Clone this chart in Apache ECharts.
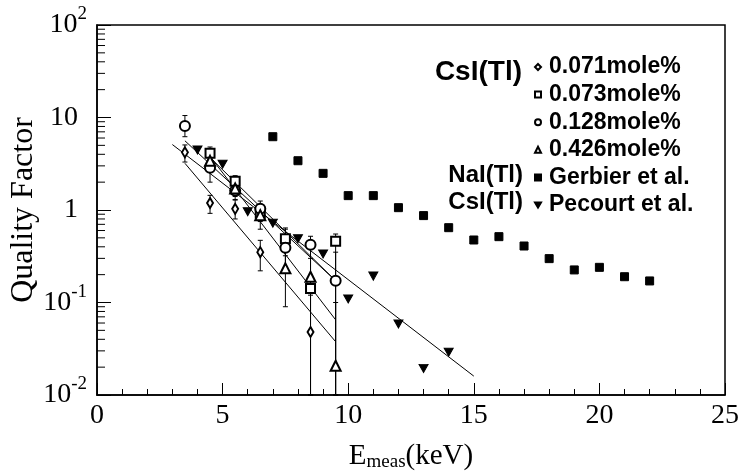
<!DOCTYPE html>
<html>
<head>
<meta charset="utf-8">
<script src="https://cdn.jsdelivr.net/npm/echarts@6/dist/echarts.min.js"></script>
<style>
  html, body { margin: 0; padding: 0; background: #fff; }
  #chart { width: 741px; height: 476px; }
</style>
</head>
<body>
<div id="chart"></div>
<script>
// ---- Quality factor vs. measured energy ----

// CsI(Tl) 0.071 mole%
const x071  = [3.5, 4.5, 5.5, 6.5, 8.5];
const q071  = [4.2, 1.19, 1.03, 0.35, 0.048];
const lo071 = [3.3, 0.92, 0.80, 0.22, 0.01];
const hi071 = [5.05, 1.44, 1.28, 0.47, 0.12];

// CsI(Tl) 0.073 mole%
const x073  = [4.5, 5.5, 6.5, 7.5, 8.5, 9.5];
const q073  = [4.1, 2.04, 0.92, 0.49, 0.142, 0.46];
const lo073 = [3.5, 1.75, 0.75, 0.32, 0.01, 0.01];
const hi073 = [4.8, 2.35, 1.12, 0.64, 0.30, 0.55];

// CsI(Tl) 0.128 mole%
const x128  = [3.5, 4.5, 5.5, 6.5, 7.5, 8.5, 9.5];
const q128  = [8.1, 2.86, 1.62, 1.03, 0.39, 0.42, 0.172];
const lo128 = [6.2, 2.0, 1.3, 0.8, 0.22, 0.01, 0.01];
const hi128 = [10.5, 3.5, 2.0, 1.25, 0.62, 0.52, 0.35];

// CsI(Tl) 0.426 mole%
const x426  = [4.5, 5.5, 6.5, 7.5, 8.5, 9.5];
const q426  = [3.4, 1.71, 0.88, 0.234, 0.19, 0.0207];
const lo426 = [2.8, 1.4, 0.62, 0.09, 0.01, 0.01];
const hi426 = [4.2, 2.1, 1.1, 0.45, 0.42, 0.10];

// NaI(Tl), Gerbier et al.
const xGerbier = [7, 8, 9, 10, 11, 12, 13, 14, 15, 16, 17, 18, 19, 20, 21, 22];
const qGerbier = [6.2, 3.41, 2.49, 1.43, 1.43, 1.06, 0.87, 0.644, 0.474, 0.515, 0.408, 0.298, 0.225, 0.24, 0.19, 0.171];

// CsI(Tl), Pecourt et al.
const xPecourt = [4, 5, 6, 7, 8, 9, 10, 11, 12, 13, 14];
const qPecourt = [4.45, 3.12, 0.96, 0.72, 0.49, 0.334, 0.109, 0.193, 0.0586, 0.0194, 0.029];

// exponential fits (end points)
const fitPecourtX = [3, 15],    fitPecourtY = [5.1, 0.016];
const fit071X = [3.5, 9.5],     fit071Y = [3.2, 0.0377];
const fit073X = [4.5, 9.5],     fit073Y = [3.7, 0.172];
const fit128X = [3.5, 9.5],     fit128Y = [5.6, 0.172];
const fit426X = [4.5, 9.5],     fit426Y = [3.8, 0.065];

// axis ticks
const xTickLabels = [0, 5, 10, 15, 20, 25];
const decadeStarts = [0.01, 0.1, 1, 10];
const minorMantissas = [2, 3, 4, 5, 6, 7, 8, 9];

const names = ['0.071mole%', '0.073mole%', '0.128mole%', '0.426mole%', 'Gerbier et al.', 'Pecourt et al.'];

const SERIF = '"Liberation Serif", "Times New Roman", serif';
const SANS = '"Liberation Sans", Arial, Helvetica, sans-serif';
const downTriangle = 'path://M0,0L10,0L5,8.66Z';

const zip = (xs, ys) => xs.map((x, i) => [x, ys[i]]);

function errorBars(xs, lo, hi) {
  return {
    type: 'custom',
    silent: true,
    z: 2,
    data: xs.map((x, i) => [x, lo[i], hi[i]]),
    encode: { x: 0, y: [1, 2] },
    renderItem(params, api) {
      const x = api.value(0);
      const a = api.coord([x, api.value(1)]);
      const b = api.coord([x, api.value(2)]);
      const w = 2.5;
      const st = { stroke: '#000', lineWidth: 1 };
      return {
        type: 'group',
        children: [
          { type: 'line', shape: { x1: a[0], y1: a[1], x2: b[0], y2: b[1] }, style: st },
          { type: 'line', shape: { x1: a[0] - w, y1: a[1], x2: a[0] + w, y2: a[1] }, style: st },
          { type: 'line', shape: { x1: b[0] - w, y1: b[1], x2: b[0] + w, y2: b[1] }, style: st }
        ]
      };
    }
  };
}

function fitLine(xs, ys) {
  return {
    type: 'line',
    data: zip(xs, ys),
    symbol: 'none',
    silent: true,
    z: 3,
    lineStyle: { color: '#000', width: 1 }
  };
}

function points(name, xs, ys, symbol, size) {
  return {
    type: 'scatter',
    name: name,
    data: zip(xs, ys),
    symbol: symbol,
    symbolSize: size,
    z: 5,
    itemStyle: { color: '#000', borderColor: '#000', borderWidth: 1, opacity: 1 }
  };
}

const minorTickValues = [];
decadeStarts.forEach(d => minorMantissas.forEach(m => minorTickValues.push(m * d)));

const option = {
  animation: false,
  backgroundColor: '#fff',
  grid: {
    left: 97, right: 16, top: 25, bottom: 81,
    containLabel: false, outerBoundsMode: 'none',
    show: true, borderColor: '#000', borderWidth: 1.5, backgroundColor: 'transparent'
  },
  xAxis: {
    type: 'value',
    min: 0, max: 25, interval: 5,
    splitLine: { show: false },
    axisLine: { lineStyle: { color: '#000', width: 1.5 } },
    axisTick: { inside: true, length: 12, lineStyle: { color: '#000', width: 1 } },
    minorTick: { show: true, splitNumber: 5, length: 6, lineStyle: { color: '#000', width: 1 } },
    axisLabel: { color: '#000', fontFamily: SERIF, fontSize: 28, margin: 7,
      formatter: v => (xTickLabels.indexOf(v) >= 0 ? String(v) : '') },
    name: '{e|E}{m|meas}{k|(keV)}',
    nameLocation: 'middle',
    nameGap: 45,
    nameMoveOverlap: false,
    nameTextStyle: {
      rich: {
        e: { fontFamily: SERIF, fontSize: 29, color: '#000', lineHeight: 32 },
        m: { fontFamily: SERIF, fontSize: 19, color: '#000', verticalAlign: 'bottom', lineHeight: 15 },
        k: { fontFamily: SERIF, fontSize: 29, color: '#000', lineHeight: 32 }
      }
    }
  },
  yAxis: {
    type: 'log',
    min: 0.01, max: 100, logBase: 10,
    splitLine: { show: false },
    axisLine: { lineStyle: { color: '#000', width: 1.5 } },
    axisTick: { inside: true, length: 14, lineStyle: { color: '#000', width: 1 } },
    axisLabel: {
      margin: 10,
      formatter: v => {
        const e = Math.round(Math.log10(v));
        if (e === 0) return '{b|1}{p|}';
        if (e === 1) return '{b|10}{p|}';
        return '{b|10}{s|' + e + '}';
      },
      rich: {
        b: { fontFamily: SERIF, fontSize: 28, color: '#000', lineHeight: 40 },
        s: { fontFamily: SERIF, fontSize: 19, color: '#000', verticalAlign: 'top', lineHeight: 18 },
        p: { width: 9 }
      }
    },
    name: 'Quality Factor',
    nameLocation: 'middle',
    nameGap: 57,
    nameMoveOverlap: false,
    nameTextStyle: { fontFamily: SERIF, fontSize: 32, color: '#000' }
  },
  legend: {
    data: names,
    orient: 'vertical',
    left: 529, top: 50,
    itemWidth: 6, itemHeight: 6,
    itemGap: 3.6,
    selectedMode: false,
    textStyle: { fontFamily: SANS, fontWeight: 'bold', fontSize: 23, color: '#000', lineHeight: 24, padding: [0, 0, 0, 3] }
  },
  graphic: [
    { type: 'text', right: 219, top: 58, style: { text: 'CsI(Tl)', font: 'bold 28px ' + SANS, fill: '#000' } },
    { type: 'text', right: 218, top: 163, style: { text: 'NaI(Tl)', font: 'bold 24px ' + SANS, fill: '#000' } },
    { type: 'text', right: 218, top: 190, style: { text: 'CsI(Tl)', font: 'bold 24px ' + SANS, fill: '#000' } }
  ],
  series: [
    // minor ticks at 2..9 x 10^k on the left axis
    {
      type: 'custom',
      silent: true,
      z: 4,
      data: minorTickValues.map(v => [0, v]),
      encode: { x: 0, y: 1 },
      renderItem(params, api) {
        const p = api.coord([0, api.value(1)]);
        return { type: 'line', shape: { x1: p[0], y1: p[1], x2: p[0] + 8, y2: p[1] }, style: { stroke: '#000', lineWidth: 1 } };
      }
    },
    errorBars(x071, lo071, hi071),
    errorBars(x073, lo073, hi073),
    errorBars(x128, lo128, hi128),
    errorBars(x426, lo426, hi426),
    fitLine(fitPecourtX, fitPecourtY),
    fitLine(fit071X, fit071Y),
    fitLine(fit073X, fit073Y),
    fitLine(fit128X, fit128Y),
    fitLine(fit426X, fit426Y),
    points(names[0], x071, q071, 'emptyDiamond', [6, 10]),
    points(names[1], x073, q073, 'emptyRect', 9),
    points(names[2], x128, q128, 'emptyCircle', 10),
    points(names[3], x426, q426, 'emptyTriangle', 10),
    points(names[4], xGerbier, qGerbier, 'rect', 8),
    points(names[5], xPecourt, qPecourt, downTriangle, [9, 8])
  ]
};

echarts.init(document.getElementById('chart'), null, { renderer: 'canvas' }).setOption(option);
</script>
</body>
</html>
